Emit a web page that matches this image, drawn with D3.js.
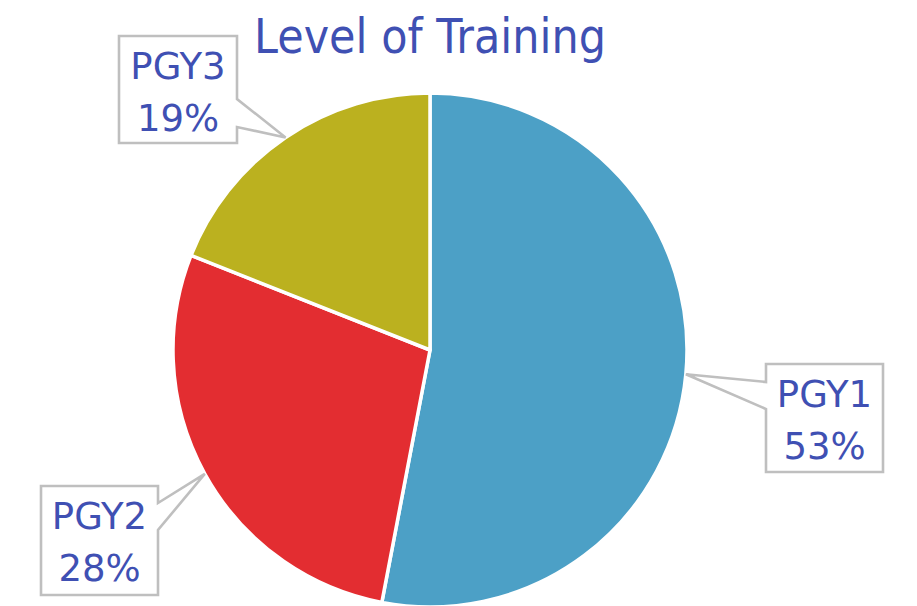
<!DOCTYPE html>
<html>
<head>
<meta charset="utf-8">
<script src="https://cdn.jsdelivr.net/npm/d3@7"></script>
<style>
  body { margin: 0; background: #fff; }
  text { font-family: "DejaVu Sans", Verdana, sans-serif; }
</style>
</head>
<body>
<svg id="chart" width="917" height="606"></svg>
<script>
// chart data
const categories = ["PGY1", "PGY2", "PGY3"];
const values = [53, 28, 19];
const sliceColors = ["#4CA0C6", "#E32D31", "#BBB11F"];
const title = "Level of Training";

let width = 917, height = 606;
let cx = 430, cy = 350, radius = 257;
let textColor = "#3F50B3";

// callout boxes (layout only): box rect, which side the pointer leaves from, pointer base offsets
let callouts = {
    "PGY1": { x: 766, y: 364, w: 117, h: 108, side: "left", b1: 18, b2: 45 },
    "PGY2": { x: 41, y: 486, w: 117, h: 109, side: "right", b1: 17, b2: 44 },
    "PGY3": { x: 119, y: 36, w: 118, h: 107, side: "right", b1: 63, b2: 91 }
};

let data = categories.map((c, i) => ({ key: c, value: values[i], color: sliceColors[i] }));

let svg = d3.select("#chart");

let pie = d3.pie()
    .sort(null)
    .value((d) => d.value);

let arc = d3.arc()
    .innerRadius(0)
    .outerRadius(radius);

let g = svg.append("g")
    .attr("transform", "translate(" + cx + "," + cy + ")");

let arcs = pie(data);

g.selectAll(".slice")
    .data(arcs)
    .enter()
    .append("path")
    .attr("class", "slice")
    .attr("d", arc)
    .style("fill", (d) => d.data.color)
    .style("stroke", "#fff")
    .style("stroke-width", 3.5)
    .style("stroke-linejoin", "round");

// title
svg.append("text")
    .attr("x", 430)
    .attr("y", 53)
    .attr("text-anchor", "middle")
    .attr("textLength", 352)
    .attr("lengthAdjust", "spacingAndGlyphs")
    .style("font-size", "48px")
    .style("fill", textColor)
    .text(title);

// callouts, pointer tip sits on the rim at the slice mid angle
arcs.forEach((a) => {
    let c = callouts[a.data.key];
    let mid = (a.startAngle + a.endAngle) / 2;
    let tx = cx + radius * Math.sin(mid);
    let ty = cy - radius * Math.cos(mid);
    let x0 = c.x, y0 = c.y, x1 = c.x + c.w, y1 = c.y + c.h;
    let p = d3.path();
    if (c.side === "left") {
        p.moveTo(x0, y0);
        p.lineTo(x1, y0);
        p.lineTo(x1, y1);
        p.lineTo(x0, y1);
        p.lineTo(x0, y0 + c.b2);
        p.lineTo(tx, ty);
        p.lineTo(x0, y0 + c.b1);
        p.closePath();
    } else {
        p.moveTo(x0, y0);
        p.lineTo(x1, y0);
        p.lineTo(x1, y0 + c.b1);
        p.lineTo(tx, ty);
        p.lineTo(x1, y0 + c.b2);
        p.lineTo(x1, y1);
        p.lineTo(x0, y1);
        p.closePath();
    }
    svg.append("path")
        .attr("d", p.toString())
        .style("fill", "#fff")
        .style("stroke", "#BFBFBF")
        .style("stroke-width", 2.6)
        .style("stroke-linejoin", "miter");

    let lbl = svg.append("text")
        .attr("text-anchor", "middle")
        .style("font-size", "37px")
        .style("fill", textColor);
    lbl.append("tspan")
        .attr("x", x0 + c.w / 2)
        .attr("y", y0 + 43)
        .text(a.data.key);
    lbl.append("tspan")
        .attr("x", x0 + c.w / 2)
        .attr("y", y0 + 95)
        .text(a.data.value + "%");
});
</script>
</body>
</html>
